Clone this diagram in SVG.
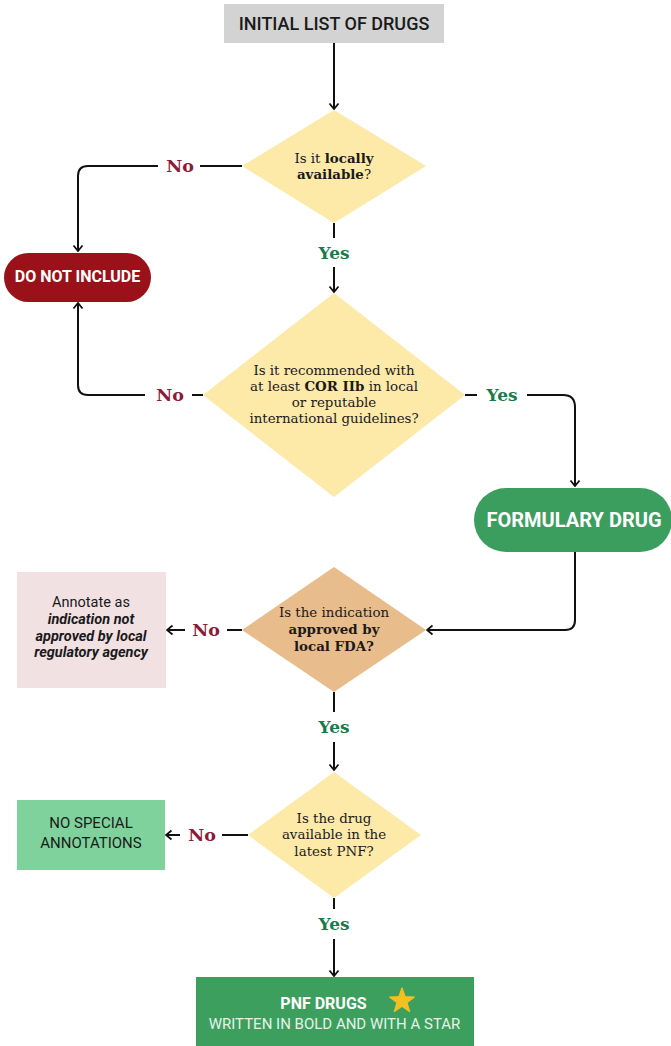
<svg xmlns="http://www.w3.org/2000/svg" width="671" height="1046" viewBox="0 0 671 1046">
<style>
.conn{fill:none;stroke:#111;stroke-width:2;}
.q{font-family:"DejaVu Serif","Liberation Serif",serif;font-size:13.4px;fill:#1a1a1a;text-anchor:middle;}
.b{font-weight:bold;}
.no{font-family:"DejaVu Serif","Liberation Serif",serif;font-size:17.5px;font-weight:bold;fill:#8c1a3a;text-anchor:middle;}
.yes{font-family:"DejaVu Serif","Liberation Serif",serif;font-size:17px;font-weight:bold;fill:#1b7a4b;text-anchor:middle;}
.sans{font-family:Roboto,"Liberation Sans",sans-serif;text-anchor:middle;}
.yellow{fill:#fde9a8;}
</style>
<defs>
<marker id="arr" viewBox="-7 -6 8 12" refX="0" refY="0" markerWidth="8" markerHeight="12" markerUnits="userSpaceOnUse" orient="auto">
<path d="M-5.5,-4.5 L0,0 L-5.5,4.5" fill="none" stroke="#111" stroke-width="1.8"/>
</marker>
</defs>

<g id="connectors">
<path class="conn" d="M334,43 V109" marker-end="url(#arr)"/>
<path class="conn" d="M242,166 H200"/>
<path class="conn" d="M158,166 H88 Q78,166 78,176 V251" marker-end="url(#arr)"/>
<path class="conn" d="M334,223 V238"/>
<path class="conn" d="M334,267 V292" marker-end="url(#arr)"/>
<path class="conn" d="M203,395 H192"/>
<path class="conn" d="M145,395 H88 Q78,395 78,385 V303" marker-end="url(#arr)"/>
<path class="conn" d="M465,395 H477"/>
<path class="conn" d="M527,395 H563 Q575,395 575,407 V486" marker-end="url(#arr)"/>
<path class="conn" d="M575,552 V620 Q575,630 565,630 H427" marker-end="url(#arr)"/>
<path class="conn" d="M242,630 H227"/>
<path class="conn" d="M185,630 H167" marker-end="url(#arr)"/>
<path class="conn" d="M334,692 V712"/>
<path class="conn" d="M334,742 V770" marker-end="url(#arr)"/>
<path class="conn" d="M248,835 H222"/>
<path class="conn" d="M180,835 H166" marker-end="url(#arr)"/>
<path class="conn" d="M334,898 V909"/>
<path class="conn" d="M334,939 V976" marker-end="url(#arr)"/>
<text class="no" x="180" y="172">No</text>
<text class="yes" x="334" y="259">Yes</text>
<text class="no" x="170" y="401">No</text>
<text class="yes" x="502" y="401">Yes</text>
<text class="no" x="206" y="636">No</text>
<text class="yes" x="334" y="733">Yes</text>
<text class="no" x="202" y="841">No</text>
<text class="yes" x="334" y="930">Yes</text>
</g>

<g id="initial">
<rect x="224" y="4" width="220" height="39" fill="#d3d3d3"/>
<text class="sans" x="334" y="30" font-size="18" font-weight="500" fill="#1a1a1a">INITIAL LIST OF DRUGS</text>
</g>

<g id="q-local">
<polygon class="yellow" points="334,110 426,166 334,223 242,166"/>
<text class="q" x="334" y="163">Is it <tspan class="b">locally</tspan></text>
<text class="q" x="334" y="179"><tspan class="b">available</tspan>?</text>
</g>

<g id="do-not-include">
<rect x="4" y="253" width="147" height="49" rx="24.5" fill="#9b1119"/>
<text class="sans" x="77.5" y="282" font-size="16" font-weight="bold" fill="#ffffff">DO NOT INCLUDE</text>
</g>

<g id="q-recommended">
<polygon class="yellow" points="334,293 465,395 334,497 203,395"/>
<text class="q" x="334" y="375">Is it recommended with</text>
<text class="q" x="334" y="391">at least <tspan class="b">COR IIb</tspan> in local</text>
<text class="q" x="334" y="407">or reputable</text>
<text class="q" x="334" y="423">international guidelines?</text>
</g>

<g id="formulary">
<rect x="474" y="488" width="198" height="64" rx="32" fill="#3c9e5e"/>
<text class="sans" x="574" y="527" font-size="20" font-weight="bold" fill="#ffffff">FORMULARY DRUG</text>
</g>

<g id="q-fda">
<polygon points="334,567 426,630 334,692 242,630" fill="#e8bc8b"/>
<text class="q" x="334" y="617">Is the indication</text>
<text class="q b" x="334" y="634">approved by</text>
<text class="q b" x="334" y="651">local FDA?</text>
</g>

<g id="annotate">
<rect x="17" y="572" width="149" height="116" fill="#f2e1e3"/>
<text class="sans" x="91" y="607" font-size="14.5" fill="#1a1a1a">Annotate as</text>
<text class="sans" x="91" y="624" font-size="14.5" font-weight="bold" font-style="italic" fill="#1a1a1a">indication not</text>
<text class="sans" x="91" y="641" font-size="14.5" font-weight="bold" font-style="italic" fill="#1a1a1a">approved by local</text>
<text class="sans" x="91" y="657" font-size="14.5" font-weight="bold" font-style="italic" fill="#1a1a1a">regulatory agency</text>
</g>

<g id="q-pnf">
<polygon class="yellow" points="334,772 421,835 334,898 248,835"/>
<text class="q" x="334" y="823">Is the drug</text>
<text class="q" x="334" y="839">available in the</text>
<text class="q" x="334" y="856">latest PNF?</text>
</g>

<g id="no-special">
<rect x="17" y="800" width="148" height="70" fill="#7fd29b"/>
<text class="sans" x="91" y="828" font-size="15" fill="#1a1a1a">NO SPECIAL</text>
<text class="sans" x="91" y="848" font-size="15" fill="#1a1a1a">ANNOTATIONS</text>
</g>

<g id="pnf-drugs">
<rect x="196" y="977" width="278" height="70" fill="#3d9f5d"/>
<text class="sans" x="323.5" y="1009" font-size="16" font-weight="bold" fill="#ffffff">PNF DRUGS</text>
<polygon points="402,988 405.1,996.7 414.4,997 407,1002.6 409.6,1011.5 402,1006.3 394.4,1011.5 397,1002.6 389.6,997 398.9,996.7" fill="#f4c020" stroke="#f4c020" stroke-width="1.2" stroke-linejoin="round"/>
<text class="sans" x="334.5" y="1029" font-size="15" fill="#e6f2e8">WRITTEN IN BOLD AND WITH A STAR</text>
</g>
</svg>
